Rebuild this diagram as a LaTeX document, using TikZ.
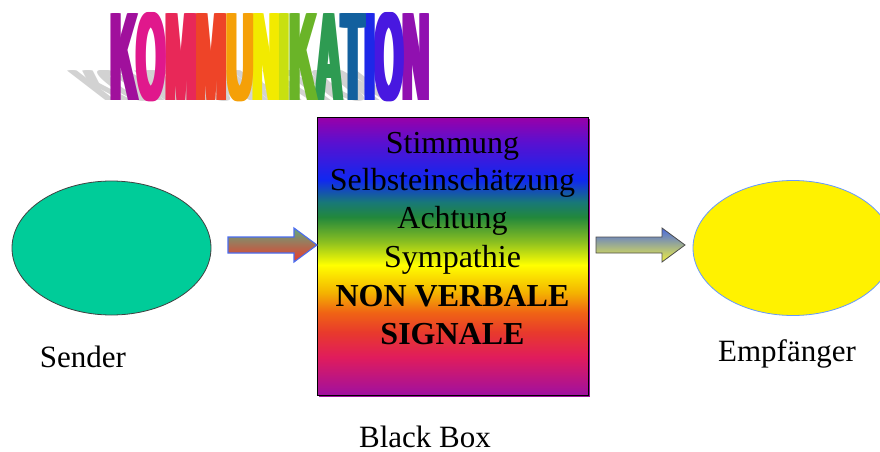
\documentclass[tikz,border=0pt]{standalone}
\usepackage{fontspec}
\setmainfont{Liberation Serif}
\newfontfamily\titlefont{Liberation Sans}
\usepackage{graphicx}
\usetikzlibrary{shapes.geometric}
\definecolor{k1}{HTML}{A0109C}
\definecolor{k2}{HTML}{E0188C}
\definecolor{k3}{HTML}{E82858}
\definecolor{k4}{HTML}{EE4428}
\definecolor{k5}{HTML}{F5A008}
\definecolor{k6}{HTML}{F2EA00}
\definecolor{k7}{HTML}{C8E010}
\definecolor{k8}{HTML}{6AB428}
\definecolor{k9}{HTML}{2E9B52}
\definecolor{k10}{HTML}{12609E}
\definecolor{k11}{HTML}{1E28E8}
\definecolor{k12}{HTML}{4818E0}
\definecolor{k13}{HTML}{9010B0}
\definecolor{rbPurple}{HTML}{9A00A8}
\definecolor{rbViolet}{HTML}{5A10D0}
\definecolor{rbBlue}{HTML}{1028F0}
\definecolor{rbTeal}{HTML}{187878}
\definecolor{rbGreen}{HTML}{22883C}
\definecolor{rbLime}{HTML}{8CC020}
\definecolor{rbYellow}{HTML}{FFFF00}
\definecolor{rbGold}{HTML}{F4B400}
\definecolor{rbOrange}{HTML}{F06414}
\definecolor{rbRed}{HTML}{E83A2C}
\definecolor{rbCrimson}{HTML}{E01C5C}
\definecolor{rbPurpleB}{HTML}{A010A0}
\definecolor{senderfill}{HTML}{00CC99}
\definecolor{empfline}{HTML}{6699FF}
\pgfdeclareverticalshading{rainbowv}{100bp}{%
  color(0bp)=(rbPurpleB); color(25bp)=(rbPurpleB); color(31.8bp)=(rbCrimson);
  color(36.3bp)=(rbRed); color(39.9bp)=(rbOrange); color(43.5bp)=(rbGold);
  color(48.4bp)=(rbYellow); color(52.5bp)=(rbLime); color(57bp)=(rbGreen);
  color(59.7bp)=(rbTeal); color(63.7bp)=(rbBlue); color(70.5bp)=(rbViolet);
  color(75bp)=(rbPurple); color(100bp)=(rbPurple)}
\newcommand{\kommword}{\textcolor{k1}{K}\textcolor{k2}{O}\textcolor{k3}{M}\textcolor{k4}{M}\textcolor{k5}{U}\textcolor{k6}{N}\textcolor{k7}{I}\textcolor{k8}{K}\textcolor{k9}{A}\textcolor{k10}{T}\textcolor{k11}{I}\textcolor{k12}{O}\textcolor{k13}{N}}
\tikzset{
  boxline/.style={anchor=base, inner sep=0, font=\fontsize{32}{38}\selectfont},
  lbl/.style={anchor=base, inner sep=0, font=\fontsize{31}{37}\selectfont},
}
\begin{document}
\begin{tikzpicture}[x=1pt,y=-1pt]
\useasboundingbox (0,0) rectangle (880,452);
\clip (0,0) rectangle (880,452);
% title shadow
\foreach \s in {0,1,...,5}
  \node[anchor=base west, inner sep=0, xslant=-1.3, transform shape, text=gray!35] (shadow\s) at ({103+\s},100)
    {\resizebox{290pt}{30pt}{\titlefont\bfseries KOMMUNIKATION}};
% title
\foreach \s in {0,1,...,5}
  \node[anchor=base west, inner sep=0] (title\s) at ({108+\s},100)
    {\resizebox{319pt}{88pt}{\titlefont\bfseries\kommword}};
% sender
\node[ellipse, draw=black!75, line width=0.8pt, fill=senderfill, minimum width=199pt, minimum height=134pt, inner sep=0] (sender) at (111.5,248) {};
\node[lbl] (senderlbl) at (83,367) {Sender};
% empfaenger
\node[ellipse, draw=empfline, line width=0.8pt, fill=yellow, minimum width=200pt, minimum height=135pt, inner sep=0] (empf) at (793,248) {};
\node[lbl] (empflbl) at (787,361) {Empfänger};
% black box
\fill[rbPurpleB] (319,119) rectangle (590,397);
\node[draw=black, line width=0.8pt, shading=rainbowv, minimum width=271pt, minimum height=278pt, inner sep=0] (box) at (452.5,256) {};
\node[boxline] (l1) at (452.5,153) {Stimmung};
\node[boxline] (l2) at (452.5,190.5) {Selbsteinschätzung};
\node[boxline] (l3) at (452.5,228.5) {Achtung};
\node[boxline] (l4) at (452.5,267) {Sympathie};
\node[boxline] (l5) at (452.5,306.5) {\bfseries NON VERBALE};
\node[boxline] (l6) at (452.5,344.5) {\bfseries SIGNALE};
\node[lbl] (boxlbl) at (425,447) {Black Box};
% arrows
\coordinate (tipL) at (317,245);
\coordinate (tipR) at (685,245);
\path[draw={rgb,255:red,74;green,108;blue,240}, line width=1.1pt, top color={rgb,255:red,96;green,168;blue,128}, bottom color={rgb,255:red,240;green,56;blue,40}]
  (228,237) -- (294,237) -- (294,228) -- (tipL) -- (294,262) -- (294,253) -- (228,253) -- cycle;
\path[draw=black!70, line width=0.8pt, top color={rgb,255:red,74;green,106;blue,224}, bottom color={rgb,255:red,240;green,240;blue,64}]
  (596,237) -- (662,237) -- (662,228) -- (tipR) -- (662,262) -- (662,253) -- (596,253) -- cycle;
\end{tikzpicture}
\end{document}
